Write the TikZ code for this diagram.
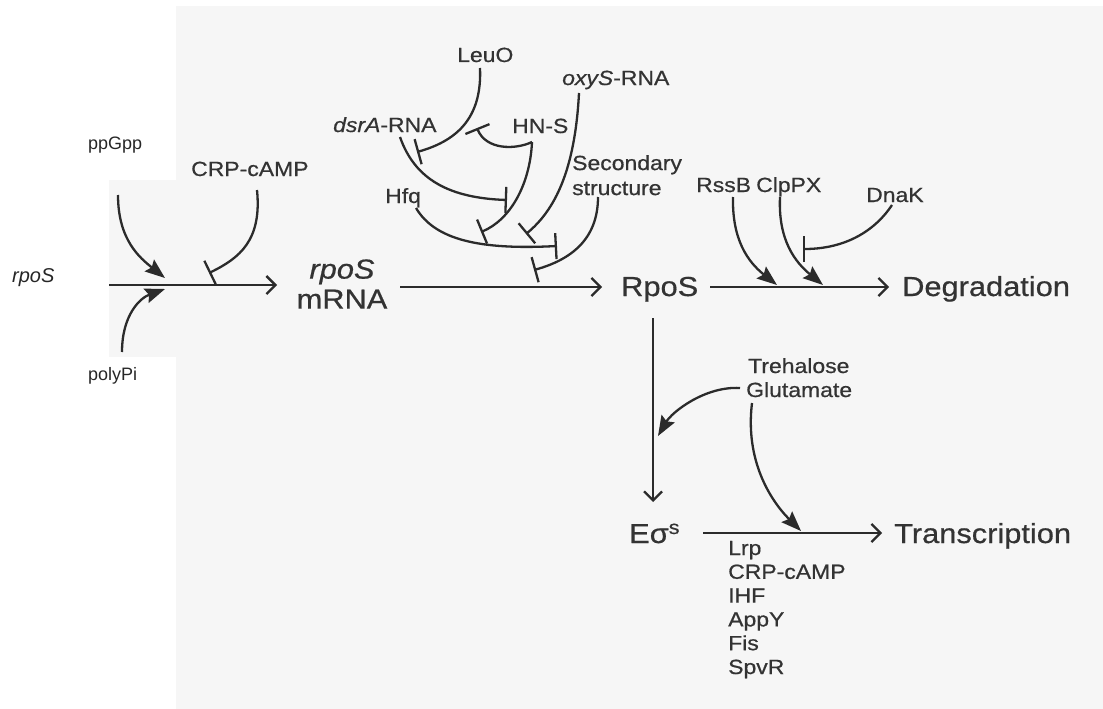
\documentclass[tikz,border=0pt]{standalone}
\usepackage{fontspec}
\setmainfont{Liberation Sans}[FakeStretch=1.12, FakeBold=0.6]
\newfontfamily\plainfont{Liberation Sans}
\usetikzlibrary{arrows.meta}
\definecolor{ink}{HTML}{2B2B2B}
\definecolor{paper}{HTML}{F6F6F6}
\definecolor{labelcolor}{HTML}{333333}

\begin{document}
\begin{tikzpicture}[x=1pt, y=-1pt,
    every node/.style={inner sep=0pt, text=labelcolor},
    bigtext/.style={font=\fontsize{27.5}{30}\selectfont, anchor=base west},
    midtext/.style={font=\fontsize{20.5}{25}\selectfont, anchor=base west},
    sidetext/.style={font=\plainfont\fontsize{18}{22}\selectfont, anchor=base west, text=black!85},
    link/.style={draw=ink, line width=2.3pt},
    go/.style={link, -{Straight Barb[length=9pt, width=18pt]}},
    push/.style={link, -{Stealth[length=20pt, width=15pt, inset=3pt]}},
    block/.style={link, -{Bar[width=26pt]}},
]
\useasboundingbox (0,0) rectangle (1103,709);

% the scanned sheet and the patch pasted on it
\fill[paper] (176,6) rectangle (1103,709);
\fill[paper] (109,180) rectangle (176,357);

% ================================================================ left: the gene
\node[sidetext, font=\plainfont\itshape\fontsize{20}{24}\selectfont] (gene) at (12,282) {rpoS};
\node[sidetext] (ppgpp) at (88,149) {ppGpp};
\node[sidetext] (polypi) at (88,380) {polyPi};
\node[midtext] (crp) at (191,176) {CRP-cAMP};

\coordinate (genestart) at (109,285);
\coordinate (genetip) at (277,285);
\draw[go] (genestart) -- (genetip);

\coordinate (ppgppfoot) at (118,195);
\coordinate (ppgpptip) at (165,278);
\draw[push] (ppgppfoot) .. controls (118,240) and (140,258) .. (ppgpptip);

\coordinate (polypifoot) at (122,352);
\coordinate (polypitip) at (165,289);
\draw[push] (polypifoot) .. controls (122,315) and (140,298) .. (polypitip);

\coordinate (crpfoot) at (257,190);
\coordinate (crpbar) at (209,273);
\draw[block] (crpfoot) .. controls (262,240) and (240,258) .. (crpbar);

% ================================================================ middle: translation
\node[bigtext, align=center, anchor=center] (mrna) at (342,284) {\textit{rpoS}\\mRNA};
\node[bigtext] (rpos) at (621,296) {RpoS};

\coordinate (mrnaout) at (400,287);
\coordinate (rposin) at (602,287);
\draw[go] (mrnaout) -- (rposin);

\node[midtext] (leuo) at (457,62) {LeuO};
\node[midtext] (oxys) at (562,85) {\textit{oxyS}-RNA};
\node[midtext] (dsra) at (333,132) {\textit{dsrA}-RNA};
\node[midtext] (hns) at (512,133) {HN-S};
\node[midtext] (hfq) at (385,203) {Hfq};
\node[midtext, anchor=north west, align=left] (sec) at (572,155) {Secondary\\structure};

% LeuO against dsrA
\coordinate (leuofoot) at (480,68);
\coordinate (leuobar) at (417,152);
\draw[block] (leuofoot) .. controls (482,115) and (460,140) .. (leuobar);

% HN-S, one branch up, one down
\coordinate (hnsfoot) at (532,142);
\coordinate (hnsbarup) at (477,128);
\coordinate (hnsbardown) at (481,232);
\draw[block] (hnsfoot) .. controls (515,150) and (486,150) .. (hnsbarup);
\draw[block] (hnsfoot) .. controls (530,185) and (510,220) .. (hnsbardown);

% dsrA against HN-S
\coordinate (dsrafoot) at (400,137);
\coordinate (dsrabar) at (507,200);
\draw[block] (dsrafoot) .. controls (415,180) and (450,198) .. (dsrabar);

% Hfq against the secondary structure
\coordinate (hfqfoot) at (416,208);
\coordinate (hfqbar) at (557,246);
\draw[block] (hfqfoot) .. controls (435,240) and (480,250) .. (hfqbar);

% oxyS against Hfq
\coordinate (oxysfoot) at (579,93);
\coordinate (oxysbar) at (526,234);
\draw[block] (oxysfoot) .. controls (575,170) and (555,210) .. (oxysbar);

% the secondary structure against translation
\coordinate (secfoot) at (598,197);
\coordinate (secbar) at (534,270);
\draw[block] (secfoot) .. controls (598,240) and (570,260) .. (secbar);

% ================================================================ right: degradation
\node[bigtext] (degr) at (902,296) {Degradation};
\node[midtext] (rssb) at (696,192) {RssB};
\node[midtext] (clpx) at (756,192) {ClpPX};
\node[midtext] (dnak) at (866,202) {DnaK};

\coordinate (rposout) at (710,287);
\coordinate (degrin) at (889,287);
\draw[go] (rposout) -- (degrin);

\coordinate (rssbfoot) at (733,197);
\coordinate (rssbtip) at (777,285);
\draw[push] (rssbfoot) .. controls (732,240) and (748,262) .. (rssbtip);

\coordinate (clpxfoot) at (780,197);
\coordinate (clpxtip) at (823,285);
\draw[push] (clpxfoot) .. controls (778,240) and (795,262) .. (clpxtip);

\coordinate (dnakfoot) at (892,205);
\coordinate (dnakbar) at (803,249);
\draw[block] (dnakfoot) .. controls (872,235) and (840,249) .. (dnakbar);

% ================================================================ lower: holoenzyme
\node[bigtext] (esig) at (629,543) {Eσ\textsuperscript{s}};
\node[bigtext] (trans) at (894,543) {Transcription};
\node[midtext] (treh) at (748,373) {Trehalose};
\node[midtext] (glut) at (746,397) {Glutamate};

\coordinate (rposdown) at (653,318);
\coordinate (esigin) at (653,502);
\draw[go] (rposdown) -- (esigin);

\coordinate (esigout) at (703,533);
\coordinate (transin) at (882,533);
\draw[go] (esigout) -- (transin);

\coordinate (glutleft) at (740,388);
\coordinate (glutdown) at (752,403);
\coordinate (glutholo) at (658,436);
\coordinate (gluttrans) at (801,531);
\draw[push] (glutleft) .. controls (705,386) and (672,412) .. (glutholo);
\draw[push] (glutdown) .. controls (745,460) and (770,500) .. (gluttrans);

% activators under the line
\foreach \name [count=\i] in {Lrp, CRP-cAMP, IHF, AppY, Fis, SpvR}{
    \node[midtext] (act\i) at (728, {555 + (\i-1)*23.8}) {\name};
}
\end{tikzpicture}
\end{document}
